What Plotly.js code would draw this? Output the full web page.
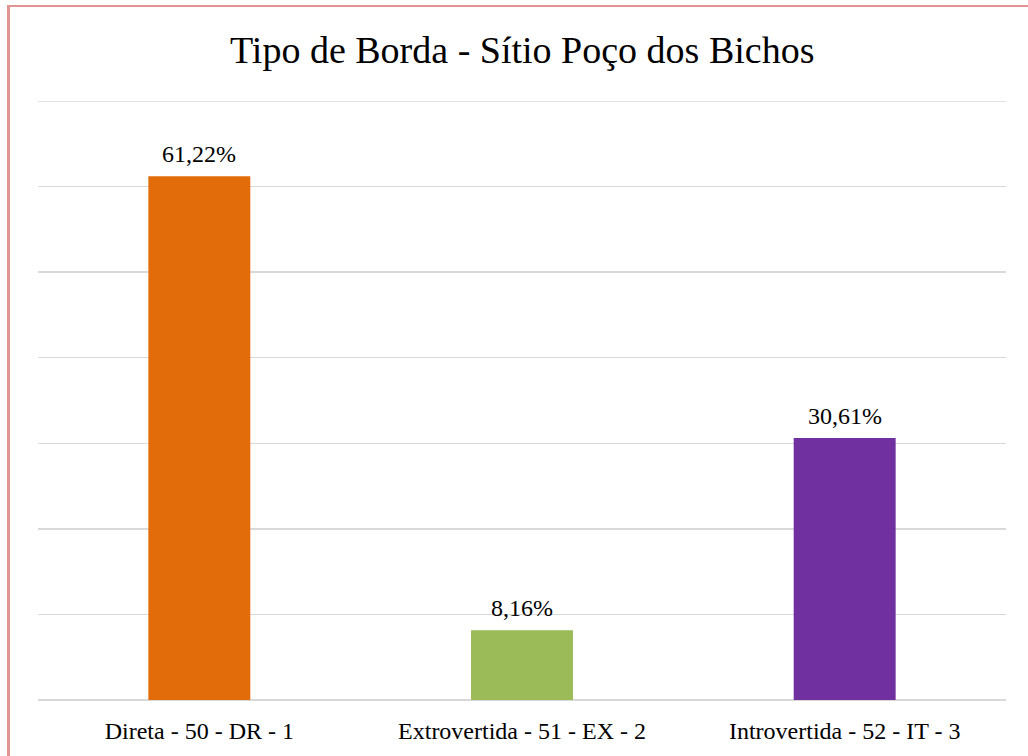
<!DOCTYPE html>
<html>
<head>
<meta charset="utf-8">
<script src="https://cdn.plot.ly/plotly-3.0.1.min.js"></script>
<style>
  html, body { margin: 0; padding: 0; background: #fff; }
  #wrap { position: absolute; left: 0; top: 0; width: 1028px; height: 756px; overflow: hidden; }
  #frame { position: absolute; left: 7px; top: 5px; width: 1100px; height: 800px;
           border-left: 3px solid #E09494; border-top: 2px solid #E09494; pointer-events: none; z-index: 2; }
  #chart { position: absolute; left: 0; top: 0; width: 1028px; height: 756px; }
</style>
</head>
<body>
<div id="wrap">
  <div id="chart"></div>
  <div id="frame"></div>
</div>
<script>
const categories = ["Direta - 50 - DR - 1", "Extrovertida - 51 - EX - 2", "Introvertida - 52 - IT - 3"];
const values = [61.22, 8.16, 30.61];
const labels = ["61,22%", "8,16%", "30,61%"];
const colors = ["#E36C0A", "#9BBB59", "#7030A0"];

const font = "'Liberation Serif', 'DejaVu Serif', serif";

const annotations = categories.map((c, i) => ({
  x: c, y: values[i], xref: "x", yref: "y",
  text: labels[i], showarrow: false,
  yanchor: "middle", yshift: 22,
  font: { family: font, size: 24, color: "#000" }
}));

Plotly.newPlot("chart", [{
  type: "bar",
  x: categories,
  y: values,
  marker: { color: colors },
  width: 0.316,
  hoverinfo: "none"
}], {
  width: 1028,
  height: 756,
  margin: { l: 38, r: 22, t: 101, b: 56 },
  paper_bgcolor: "#fff",
  plot_bgcolor: "#fff",
  title: { text: "Tipo de Borda - Sítio Poço dos Bichos", font: { family: font, size: 38, color: "#000" },
           x: 0.508, xanchor: "center", y: 0.934, yanchor: "middle" },
  xaxis: { tickfont: { family: font, size: 24, color: "#000" }, showgrid: false, zeroline: false,
           showline: false, ticks: "", ticklabelstandoff: 14 },
  yaxis: { range: [0, 70], dtick: 10, showticklabels: false, showgrid: true, gridcolor: "#D9D9D9",
           gridwidth: 1.5, zeroline: true, zerolinecolor: "#D9D9D9", zerolinewidth: 1.5, showline: false },
  shapes: [{ type: "line", xref: "paper", yref: "y", x0: 0, x1: 1, y0: 70, y1: 70,
             line: { color: "#D9D9D9", width: 1.5 }, layer: "below" }],
  annotations: annotations,
  showlegend: false
}, { displayModeBar: false, staticPlot: true });
</script>
</body>
</html>
